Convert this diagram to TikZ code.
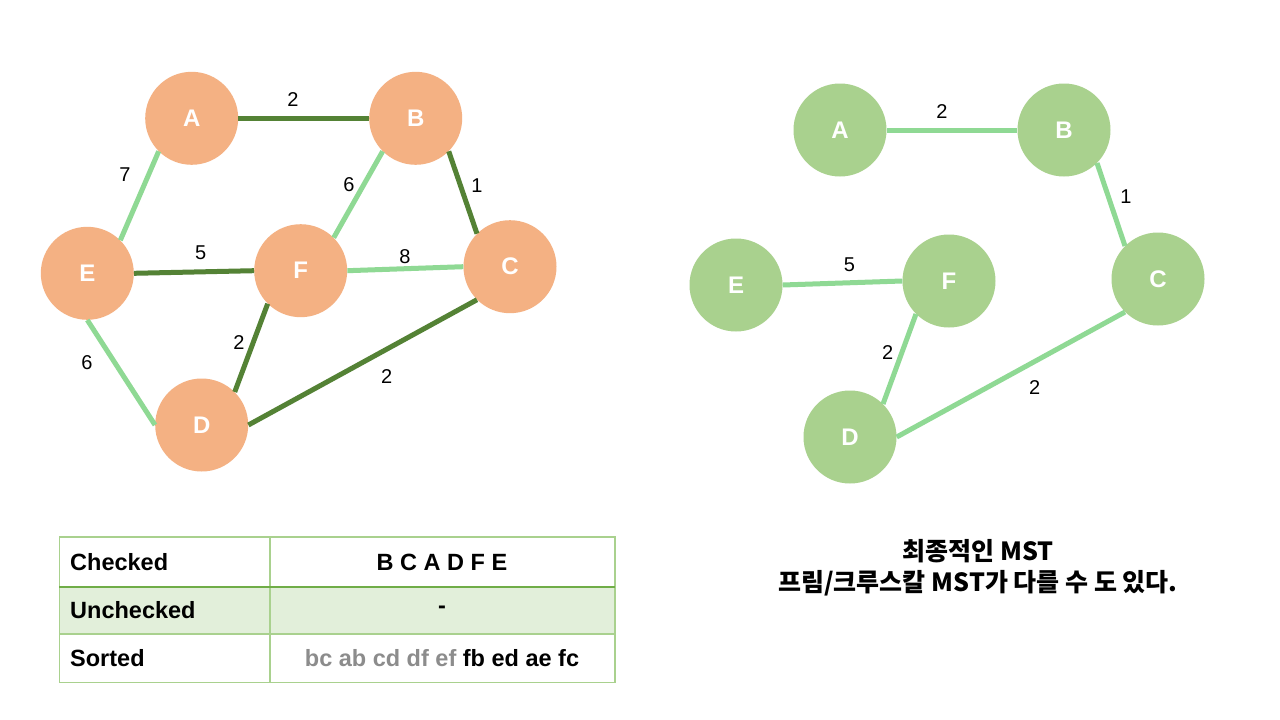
\documentclass[tikz,border=0pt]{standalone}
\usepackage{fontspec}
\setmainfont{Liberation Sans}
\newfontfamily\kr{Noto Sans CJK KR}
\definecolor{peach}{HTML}{F4B183}
\definecolor{leaf}{HTML}{A9D18E}
\definecolor{darkedge}{HTML}{548235}
\definecolor{lightedge}{HTML}{8FD994}
\definecolor{tabline}{HTML}{A9D18E}
\definecolor{tabmid}{HTML}{70AD47}
\definecolor{rowfill}{HTML}{E2EFDA}
\definecolor{graytxt}{HTML}{8C8C8C}
\tikzset{
  vert/.style={circle, minimum size=93pt, inner sep=0pt, text=white, font=\fontsize{24}{27}\selectfont\bfseries},
  pvert/.style={vert, fill=peach},
  gvert/.style={vert, fill=leaf},
  sel/.style={draw=darkedge, line width=5pt},
  unsel/.style={draw=lightedge, line width=5pt},
  elab/.style={font=\fontsize{20}{23}\selectfont, text=black, inner sep=0pt},
  tabtxt/.style={font=\fontsize{23.5}{27}\selectfont\bfseries, inner sep=0pt},
}
\begin{document}
\begin{tikzpicture}[x=1pt, y=-1pt]
\useasboundingbox[fill=white] (0,0) rectangle (1280,720);
% left graph
\node[pvert] (A) at (191.7,118.3) {A};
\node[pvert] (B) at (415.7,118.3) {B};
\node[pvert] (C) at (510,266.7) {C};
\node[pvert] (E) at (87.3,273.3) {E};
\node[pvert] (F) at (300.7,270.7) {F};
\node[pvert] (D) at (201.7,425) {D};
\draw[sel] (A.east) -- (B.west);
\draw[unsel] (E.north east) -- (A.south west);
\draw[unsel] (B.south west) -- (F.north east);
\draw[sel] (B.south east) -- (C.north west);
\draw[sel] (E.east) -- (F.west);
\draw[unsel] (F.east) -- (C.west);
\draw[sel] (F.south west) -- (D.north east);
\draw[unsel] (E.south) -- (D.west);
\draw[sel] (D.east) -- (C.south west);
\node[elab] at (293,100) {2};
\node[elab] at (125,175) {7};
\node[elab] at (349,185) {6};
\node[elab] at (477,186) {1};
\node[elab] at (200.7,253) {5};
\node[elab] at (405,257) {8};
\node[elab] at (239,342.7) {2};
\node[elab] at (87,362.7) {6};
\node[elab] at (386.7,377) {2};
% right graph
\node[gvert] (rA) at (840,130) {A};
\node[gvert] (rB) at (1064,130) {B};
\node[gvert] (rC) at (1158,279) {C};
\node[gvert] (rE) at (736,285) {E};
\node[gvert] (rF) at (949,281) {F};
\node[gvert] (rD) at (850,437) {D};
\draw[unsel] (rA.east) -- (rB.west);
\draw[unsel] (rB.south east) -- (rC.north west);
\draw[unsel] (rE.east) -- (rF.west);
\draw[unsel] (rF.south west) -- (rD.north east);
\draw[unsel] (rD.east) -- (rC.south west);
\node[elab] at (942,112) {2};
\node[elab] at (1126,197) {1};
\node[elab] at (849.5,265) {5};
\node[elab] at (887.6,352.7) {2};
\node[elab] at (1034.7,388) {2};
% table
\fill[rowfill] (59.3,586.7) rectangle (615,634);
\draw[tabline, line width=1.5pt] (59.3,537) rectangle (615,682.7);
\draw[tabline, line width=1.5pt] (59.3,634) -- (615,634);
\draw[tabline, line width=1.5pt] (270,537) -- (270,682.7);
\draw[tabmid, line width=2pt] (59.3,586.7) -- (615,586.7);
\node[tabtxt, anchor=west] (t1) at (70,562) {Checked};
\node[tabtxt, anchor=west] (t2) at (70,610) {Unchecked};
\node[tabtxt, anchor=west] (t3) at (70,658) {Sorted};
\node[tabtxt] (v1) at (442,562) {B C A D F E};
\node[tabtxt] (v2) at (442,610) {-};
\node[tabtxt] (v3) at (442,658) {{\color{graytxt}bc ab cd df ef} fb ed ae fc};
% caption
\node[align=center, font=\kr\bfseries\fontsize{25}{31}\selectfont, inner sep=0pt] (cap) at (978,567.5) {최종적인 MST\\프림/크루스칼 MST가 다를 수 도 있다.};
\end{tikzpicture}
\end{document}
